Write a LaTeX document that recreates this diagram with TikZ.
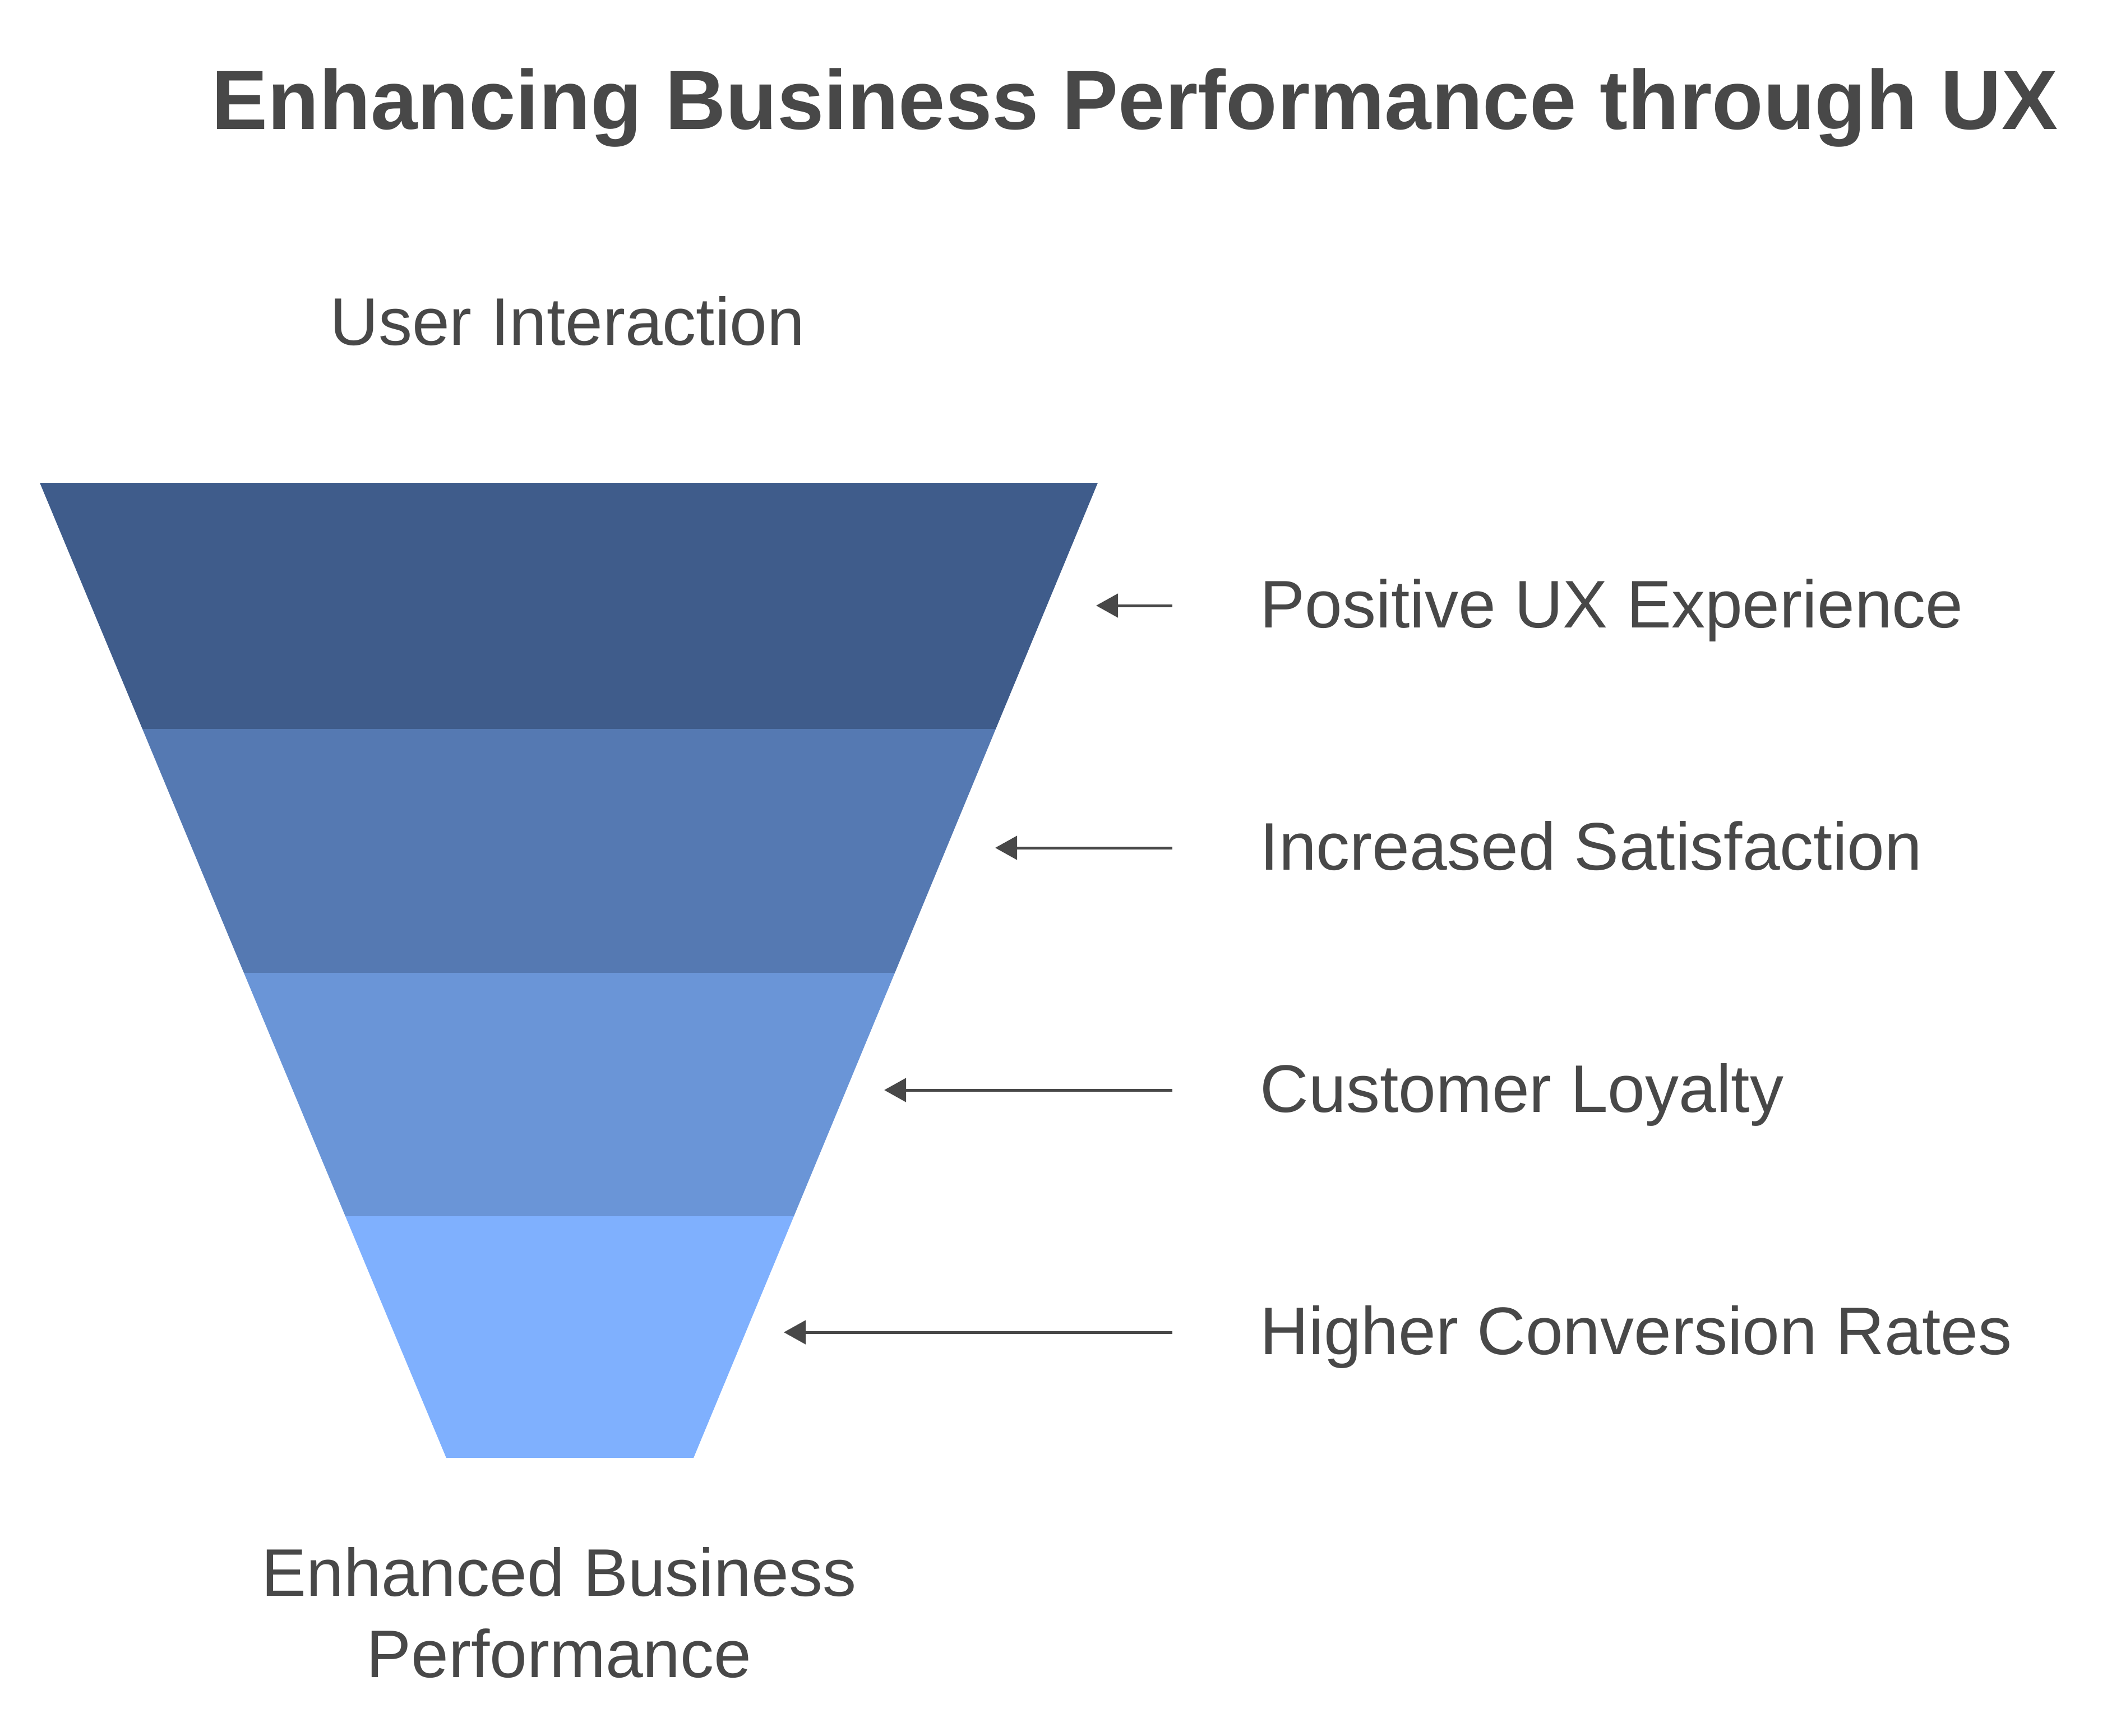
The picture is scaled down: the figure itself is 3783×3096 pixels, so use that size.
\documentclass[tikz,border=0pt]{standalone}
\usepackage{fontspec}
\setmainfont{Liberation Sans}
\usetikzlibrary{arrows.meta}
\definecolor{txt}{HTML}{484848}
\definecolor{bandA}{HTML}{3F5C8B}
\definecolor{bandB}{HTML}{5579B2}
\definecolor{bandC}{HTML}{6A95D7}
\definecolor{bandD}{HTML}{7FB0FE}
\begin{document}
\begin{tikzpicture}[x=0.25pt,y=-0.25pt,
  lbl/.style={inner sep=0pt,text=txt,font=\fontsize{30}{36.25}\selectfont},
  ttl/.style={inner sep=0pt,text=txt,font=\fontsize{37.5}{45}\selectfont\bfseries},
  pointer/.style={draw=txt,line width=1.25pt,-{Triangle[length=9.75pt,width=10.5pt]}}]
\useasboundingbox[fill=white] (0,0) rectangle (3783,3096);
% funnel bands
\fill[bandA] (71,861) -- (1958,861) -- (1776,1300) -- (254,1300) -- cycle;
\fill[bandB] (254,1300) -- (1776,1300) -- (1596,1735) -- (435,1735) -- cycle;
\fill[bandC] (435,1735) -- (1596,1735) -- (1416,2169) -- (616,2169) -- cycle;
\fill[bandD] (616,2169) -- (1416,2169) -- (1237,2600) -- (796,2600) -- cycle;
% texts
\node[ttl,anchor=base] (title) at (2024,230) {Enhancing Business Performance through UX};
\node[lbl,anchor=base] (top) at (1012,615) {User Interaction};
\node[lbl,anchor=center,align=center] (bottom) at (997,2876) {Enhanced Business\\Performance};
\node[lbl,anchor=base west] (l1) at (2247,1119) {Positive UX Experience};
\node[lbl,anchor=base west] (l2) at (2247,1551) {Increased Satisfaction};
\node[lbl,anchor=base west] (l3) at (2247,1983) {Customer Loyalty};
\node[lbl,anchor=base west] (l4) at (2247,2415) {Higher Conversion Rates};
% arrow ends
\coordinate (s1) at (2091,1080); \coordinate (t1) at (1955,1080);
\coordinate (s2) at (2091,1512); \coordinate (t2) at (1775,1512);
\coordinate (s3) at (2091,1944); \coordinate (t3) at (1577,1944);
\coordinate (s4) at (2091,2376); \coordinate (t4) at (1398,2376);
\draw[pointer] (s1) -- (t1);
\draw[pointer] (s2) -- (t2);
\draw[pointer] (s3) -- (t3);
\draw[pointer] (s4) -- (t4);
\end{tikzpicture}
\end{document}
